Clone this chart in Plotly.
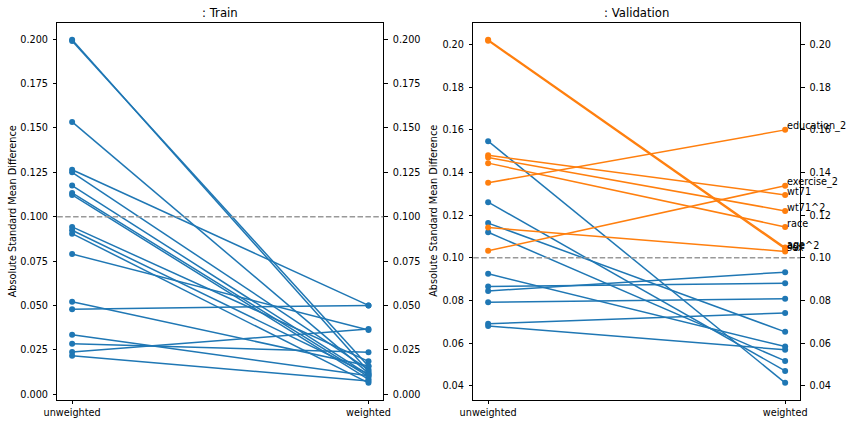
import plotly.graph_objects as go

# ---------------- data ----------------
stages = ["unweighted", "weighted"]
covariates = ["sex", "race", "age", "age^2", "education_2", "education_3", "education_4",
              "education_5", "smokeintensity", "smokeintensity^2", "smokeyrs", "smokeyrs^2",
              "exercise_1", "exercise_2", "active_1", "active_2", "wt71", "wt71^2"]

train_unweighted = [0.1996, 0.1990, 0.1534, 0.1265, 0.1250, 0.1176, 0.1134, 0.1123, 0.0943,
                    0.0924, 0.0905, 0.0790, 0.0522, 0.0480, 0.0336, 0.0285, 0.0238, 0.0218]
train_weighted = [0.0130, 0.0158, 0.0120, 0.0501, 0.0140, 0.0110, 0.0100, 0.0085, 0.0186,
                  0.0115, 0.0065, 0.0362, 0.0160, 0.0501, 0.0105, 0.0237, 0.0368, 0.0075]

valid_unweighted = [0.1142, 0.1444, 0.2022, 0.2018, 0.1352, 0.1547, 0.1261, 0.1163, 0.1120,
                    0.0925, 0.0866, 0.0845, 0.0792, 0.1033, 0.0691, 0.0681, 0.1481, 0.1470]
valid_weighted = [0.1030, 0.1145, 0.1048, 0.1042, 0.1600, 0.0414, 0.0470, 0.0653, 0.0517,
                  0.0584, 0.0881, 0.0933, 0.0808, 0.1338, 0.0742, 0.0569, 0.1295, 0.1220]

threshold = 0.1
train_ticks = [0.000, 0.025, 0.050, 0.075, 0.100, 0.125, 0.150, 0.175, 0.200]
valid_ticks = [0.04, 0.06, 0.08, 0.10, 0.12, 0.14, 0.16, 0.18, 0.20]

BLUE = "#1f77b4"
ORANGE = "#ff7f0e"
FONT = "DejaVu Sans"
FS = 9.7

W, H = 855, 424


def px_x(p):
    return p / W


def px_y(p):
    return (H - p) / H


fig = go.Figure()

# Train panel
for u, w in zip(train_unweighted, train_weighted):
    color = ORANGE if w > threshold else BLUE
    fig.add_trace(go.Scatter(x=stages, y=[u, w], mode="lines+markers",
                             line=dict(color=color, width=1.5),
                             marker=dict(color=color, size=6),
                             xaxis="x", yaxis="y", showlegend=False, hoverinfo="skip"))

# Validation panel (blue first, orange on top)
order = [i for i in range(len(covariates)) if valid_weighted[i] <= threshold] + \
        [i for i in range(len(covariates)) if valid_weighted[i] > threshold]
for i in order:
    u, w = valid_unweighted[i], valid_weighted[i]
    color = ORANGE if w > threshold else BLUE
    fig.add_trace(go.Scatter(x=stages, y=[u, w], mode="lines+markers",
                             line=dict(color=color, width=1.5),
                             marker=dict(color=color, size=6),
                             xaxis="x2", yaxis="y2", showlegend=False, hoverinfo="skip"))

# dummy traces for right-hand twin axes
fig.add_trace(go.Scatter(x=stages, y=[None, None], xaxis="x", yaxis="y3",
                         showlegend=False, hoverinfo="skip"))
fig.add_trace(go.Scatter(x=stages, y=[None, None], xaxis="x2", yaxis="y4",
                         showlegend=False, hoverinfo="skip"))


def yrange(vals):
    lo, hi = min(vals), max(vals)
    m = (hi - lo) * 0.05
    return [lo - m, hi + m]


tr_range = yrange(train_unweighted + train_weighted)
va_range = yrange(valid_unweighted + valid_weighted)

axis_common = dict(showgrid=False, zeroline=False, ticks="outside", ticklen=3.5,
                   tickwidth=0.8, tickcolor="black", linecolor="black", linewidth=0.8,
                   automargin=False,
                   tickfont=dict(family=FONT, size=FS, color="black"))
yextra = dict(ticklabelstandoff=3)

dom1 = [px_x(57.3), px_x(383.3)]
dom2 = [px_x(473.3), px_x(800.0)]
ydom = [px_y(400.0), px_y(22.7)]

fig.update_layout(
    width=W, height=H, margin=dict(l=0, r=0, t=0, b=0, autoexpand=False),
    paper_bgcolor="white", plot_bgcolor="white",
    font=dict(family=FONT, size=FS, color="black"),
    xaxis=dict(domain=dom1, type="category", range=[-0.05, 1.05], anchor="y",
               showline=True, mirror=True, **axis_common),
    yaxis=dict(domain=ydom, range=tr_range, anchor="x", showline=True, mirror=True,
               tickvals=train_ticks, ticktext=[f"{t:.3f}" for t in train_ticks],
               **axis_common, **yextra),
    yaxis3=dict(overlaying="y", side="right", anchor="x", range=tr_range, showline=False,
                tickvals=train_ticks, ticktext=[f"{t:.3f}" for t in train_ticks],
                **axis_common, **yextra),
    xaxis2=dict(domain=dom2, type="category", range=[-0.05, 1.05], anchor="y2",
                showline=True, mirror=True, **axis_common),
    yaxis2=dict(domain=ydom, range=va_range, anchor="x2", showline=True, mirror=True,
                tickvals=valid_ticks, ticktext=[f"{t:.2f}" for t in valid_ticks],
                **axis_common, **yextra),
    yaxis4=dict(overlaying="y2", side="right", anchor="x2", range=va_range, showline=False,
                tickvals=valid_ticks, ticktext=[f"{t:.2f}" for t in valid_ticks],
                **axis_common, **yextra),
)

# threshold lines
for xr, yr in (("x domain", "y"), ("x2 domain", "y2")):
    fig.add_shape(type="line", xref=xr, yref=yr, x0=0, x1=1, y0=threshold, y1=threshold,
                  line=dict(color="#999999", width=1.5, dash="5.5px,2.4px"), layer="above")

# labels for imbalanced covariates in validation
for i, name in enumerate(covariates):
    if valid_weighted[i] > threshold:
        fig.add_annotation(x=1, y=valid_weighted[i], xref="x2", yref="y2", text=name,
                           showarrow=False, xanchor="left", yanchor="middle", yshift=3.5,
                           xshift=0, font=dict(family=FONT, size=FS, color="black"))

# titles
for txt, dom in ((": Train", dom1), (": Validation", dom2)):
    fig.add_annotation(x=(dom[0] + dom[1]) / 2, y=px_y(13), xref="paper", yref="paper",
                       text=txt, showarrow=False, xanchor="center", yanchor="middle",
                       font=dict(family=FONT, size=11.7, color="black"))

# y-axis labels
for xp in (12.0, 433.5):
    fig.add_annotation(x=px_x(xp), y=px_y(211.3), xref="paper", yref="paper",
                       text="Absolute Standard Mean Difference", textangle=-90,
                       showarrow=False, xanchor="center", yanchor="middle",
                       font=dict(family=FONT, size=FS, color="black"))

fig.write_html("out.html")
